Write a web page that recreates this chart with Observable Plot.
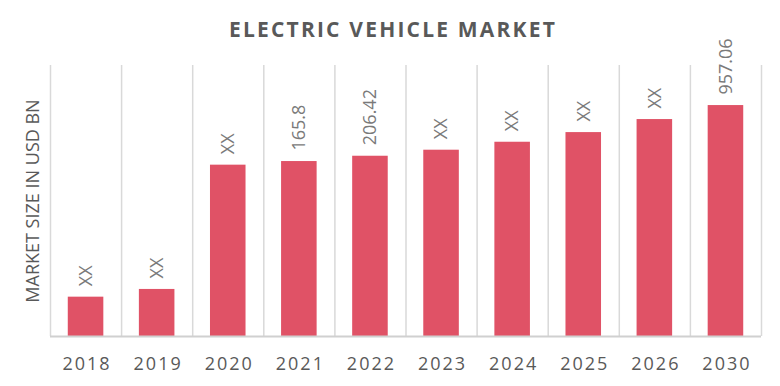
<!DOCTYPE html>
<html>
<head>
<meta charset="utf-8">
<script src="https://cdn.jsdelivr.net/npm/d3@7"></script>
<script src="https://cdn.jsdelivr.net/npm/@observablehq/plot@0.6"></script>
<style>
  html, body { margin: 0; padding: 0; background: #fff; }
  body { width: 780px; height: 386px; overflow: hidden; font-family: "Open Sans", sans-serif; position: relative; }
  #title { position: absolute; left: 0; top: 0; width: 780px; height: 50px; line-height: 58px; text-align: center;
           font-weight: 700; font-size: 21px; letter-spacing: 2.2px; color: #595959; padding-left: 6px;
           box-sizing: border-box; z-index: 2; }
  #chart { position: absolute; left: 0; top: 0; }
</style>
</head>
<body>
<div id="chart"></div>
<div id="title">ELECTRIC VEHICLE MARKET</div>
<script>
// Categories (years)
const years = ["2018", "2019", "2020", "2021", "2022", "2023", "2024", "2025", "2026", "2030"];
// Bar sizes as drawn (the picture is not to scale with its labels; read relative to the 2030 bar = 957.06)
const barValues = [163, 195, 710, 725, 747, 772, 805, 845, 899, 957];
// Labels printed above the bars
const barLabels = ["XX", "XX", "XX", "165.8", "206.42", "XX", "XX", "XX", "XX", "957.06"];
// Value axis extent
const yMax = 1123;

const data = years.map((year, i) => ({ year, i, value: barValues[i], label: barLabels[i] }));
const boundaries = d3.range(0, years.length + 1);

const chart = Plot.plot({
  width: 780,
  height: 386,
  marginTop: 65,
  marginBottom: 50,
  marginLeft: 50,
  marginRight: 19,
  style: { fontFamily: "Open Sans, sans-serif", background: "transparent" },
  x: { type: "linear", domain: [0, years.length], axis: null },
  y: { domain: [0, yMax], axis: null },
  marks: [
    Plot.ruleX(boundaries, { x: d => d, stroke: "#d9d9d9", strokeWidth: 1.5 }),
    Plot.rectY(data, { x1: d => d.i + 0.25, x2: d => d.i + 0.75, y1: 0, y2: "value", fill: "#e05266" }),
    Plot.ruleY([0], { stroke: "#d0d0d0", strokeWidth: 2 }),
    Plot.text(data, {
      x: d => d.i + 0.5, y: "value", text: "label", rotate: -90, textAnchor: "start",
      dy: -11, fontSize: 18, fill: "#7a7a7a"
    }),
    Plot.text(data, {
      x: d => d.i + 0.5, text: "year", frameAnchor: "bottom", dy: 33, fontSize: 18, fill: "#595959",
      className: "year-label"
    }),
    Plot.text(["MARKET SIZE IN USD BN"], {
      frameAnchor: "left", rotate: -90, textAnchor: "middle", dx: -17, fontSize: 18, fill: "#595959"
    })
  ]
});
d3.select(chart).selectAll(".year-label text").attr("letter-spacing", "2px").attr("dx", "1px");
document.getElementById("chart").appendChild(chart);
</script>
</body>
</html>
